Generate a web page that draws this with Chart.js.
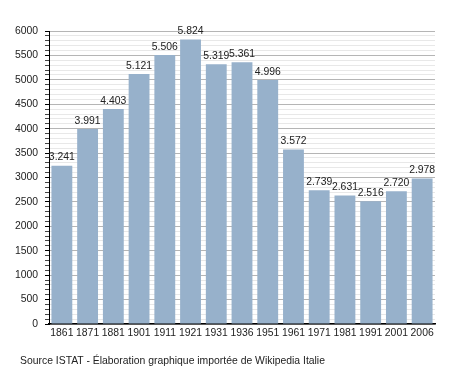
<!DOCTYPE html>
<html>
<head>
<meta charset="utf-8">
<script src="https://cdn.jsdelivr.net/npm/chart.js@4/dist/chart.umd.min.js"></script>
<style>
  html, body { margin: 0; padding: 0; background: #fff; }
  #wrap { position: relative; width: 464px; height: 373px; }
  canvas { position: absolute; left: 0; top: 0; }
  #footer { position: absolute; left: 20px; top: 355px; font: 10.4px "Liberation Sans", Arial, sans-serif; color: #222; white-space: nowrap; }
</style>
</head>
<body>
<div id="wrap">
  <canvas id="c" width="464" height="373"></canvas>
  <div id="footer">Source ISTAT - Élaboration graphique importée de Wikipedia Italie</div>
</div>
<script>
const years = ['1861','1871','1881','1901','1911','1921','1931','1936','1951','1961','1971','1981','1991','2001','2006'];
const population = [3241, 3991, 4403, 5121, 5506, 5824, 5319, 5361, 4996, 3572, 2739, 2631, 2516, 2720, 2978];
const yMin = 0;
const yMax = 6000;
const majorStep = 500;
const minorStep = 100;

function fmt(v) {
  return String(v).replace(/\B(?=(\d{3})+(?!\d))/g, '.');
}

const valueLabels = {
  id: 'valueLabels',
  afterDatasetsDraw(chart) {
    const ctx = chart.ctx;
    const meta = chart.getDatasetMeta(0);
    ctx.save();
    ctx.font = '10.4px "Liberation Sans", Arial, sans-serif';
    ctx.fillStyle = '#222';
    ctx.textAlign = 'center';
    ctx.textBaseline = 'bottom';
    meta.data.forEach((bar, i) => {
      ctx.fillText(fmt(population[i]), bar.x, bar.y - 3);
    });
    ctx.restore();
  }
};

new Chart(document.getElementById('c'), {
  type: 'bar',
  data: {
    labels: years,
    datasets: [{
      data: population,
      backgroundColor: '#97b1cb',
      borderWidth: 0,
      barPercentage: 0.81,
      categoryPercentage: 1.0
    }]
  },
  options: {
    responsive: false,
    animation: false,
    layout: { padding: { left: 0, right: 29, top: 31, bottom: 33 } },
    plugins: { legend: { display: false }, tooltip: { enabled: false } },
    scales: {
      x: {
        grid: { display: false, drawTicks: false },
        border: { display: true, color: '#000', width: 1.5 },
        ticks: { color: '#222', font: { family: '"Liberation Sans", Arial, sans-serif', size: 10.4 }, padding: 3, maxRotation: 0, autoSkip: false },
        afterFit(scale) { scale.height = 16; }
      },
      y: {
        min: yMin,
        max: yMax,
        border: { display: true, color: '#000', width: 1 },
        grid: {
          color: (c) => (c.tick && c.tick.value % majorStep === 0) ? '#b5b5b5' : '#e8e8e8',
          tickColor: (c) => (c.tick && c.tick.value % majorStep === 0) ? '#000' : '#444',
          tickLength: 4,
          drawTicks: true
        },
        ticks: {
          stepSize: minorStep,
          autoSkip: false,
          color: '#222',
          padding: 7,
          font: { family: '"Liberation Sans", Arial, sans-serif', size: 10.4 },
          callback: (v) => (v % majorStep === 0 ? String(v) : '')
        },
        afterFit(scale) { scale.width = 49; }
      }
    }
  },
  plugins: [valueLabels]
});
</script>
</body>
</html>
